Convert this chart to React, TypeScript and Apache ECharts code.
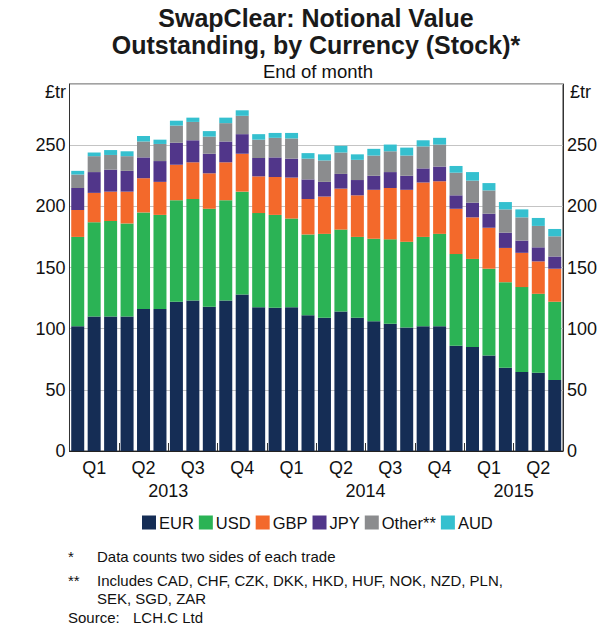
import React, { useEffect, useRef } from "react";
import * as echarts from "echarts";

const months: string[] = [
  "Jan 2013", "Feb 2013", "Mar 2013", "Apr 2013", "May 2013", "Jun 2013",
  "Jul 2013", "Aug 2013", "Sep 2013", "Oct 2013", "Nov 2013", "Dec 2013",
  "Jan 2014", "Feb 2014", "Mar 2014", "Apr 2014", "May 2014", "Jun 2014",
  "Jul 2014", "Aug 2014", "Sep 2014", "Oct 2014", "Nov 2014", "Dec 2014",
  "Jan 2015", "Feb 2015", "Mar 2015", "Apr 2015", "May 2015", "Jun 2015",
];

const eur: number[] = [102, 110, 110, 110, 116, 116, 122, 123, 118, 123, 128, 117.5, 117, 117.5, 111, 109, 114, 109, 106, 104, 101, 102, 102, 86, 85, 78, 68, 64.5, 64, 58];
const usd: number[] = [73, 77, 78, 76, 79, 77, 83, 83, 80, 82, 84, 77, 76, 72.5, 66, 68.5, 67, 66, 67.5, 69, 70, 73, 75.5, 75, 72, 71, 70, 69.5, 64.5, 64];
const gbp: number[] = [22, 24, 24, 26, 28, 27, 29, 30, 29, 31, 31, 30, 31, 33.5, 29, 30.5, 33.5, 34, 40, 42, 42.5, 44.5, 43, 37, 34, 33.5, 28, 28, 26.5, 27];
const jpy: number[] = [18, 17, 18, 17, 17, 17, 18, 18, 16, 17, 16, 15, 16, 15.5, 16, 12, 12, 12.5, 11.5, 13, 11.5, 11.5, 12, 11, 12, 11.5, 12.5, 10, 11.5, 10];
const other: number[] = [11, 13, 12, 12, 13, 14, 14, 15, 14, 15, 15, 15, 16, 16.5, 17, 17.5, 17.5, 16.5, 16.5, 17, 16.5, 18, 18, 18.5, 18, 19, 19, 19, 17.5, 16.5];
const aud: number[] = [3, 3, 4, 4, 4.5, 3.5, 4, 3.5, 4.5, 4.5, 4.5, 4.5, 4, 4.5, 4.5, 5, 5.5, 4.5, 5.5, 5.5, 6.5, 5, 5.5, 5.5, 7, 6, 6, 6.5, 6.5, 6];

const seriesNames: string[] = ["EUR", "USD", "GBP", "JPY", "Other**", "AUD"];
const seriesColors: string[] = ["#152d55", "#2bb355", "#f3692b", "#51368a", "#8b8c8e", "#35c0cf"];
const yTicks: number[] = [0, 50, 100, 150, 200, 250, 300];
const quarterLabels: string[] = ["Q1", "Q2", "Q3", "Q4"];
const yearLabels: { pos: number; label: string }[] = [
  { pos: 6, label: "2013" },
  { pos: 18, label: "2014" },
  { pos: 27, label: "2015" },
];

const FONT = "'Liberation Sans', Arial, sans-serif";

export default function App() {
  const ref = useRef<HTMLDivElement>(null);

  useEffect(() => {
    document.body.style.margin = "0";
    if (!ref.current) return;
    const chart = echarts.init(ref.current, undefined, { renderer: "svg" });
    const allData = [eur, usd, gbp, jpy, other, aud];
    const yMax = yTicks[yTicks.length - 1];
    const yInterval = yTicks[1] - yTicks[0];

    const gridLeft = 69.5;
    const gridRight = 32;
    const cx = 316;

    const yAxisCommon = {
      type: "value" as const,
      min: yTicks[0],
      max: yMax,
      interval: yInterval,
      axisTick: { show: false },
      axisLine: { show: true, lineStyle: { color: "#333", width: 1 } },
      axisLabel: {
        color: "#111",
        fontSize: 18,
        fontFamily: FONT,
        margin: 4,
        formatter: (v: number) => (v === yMax ? "" : String(v)),
      },
    };

    const txt = (x: number, y: number, text: string, size: number, extra: any = {}) => ({
      type: "text",
      x,
      y,
      style: {
        text,
        fontSize: size,
        fontFamily: FONT,
        fill: "#111",
        verticalAlign: "middle",
        ...extra,
      },
    });

    chart.setOption({
      animation: false,
      textStyle: { fontFamily: FONT },
      grid: {
        left: gridLeft,
        right: gridRight,
        top: 84,
        bottom: 174,
        show: true,
        borderColor: "#444",
        borderWidth: 1,
        backgroundColor: "transparent",
      },
      legend: {
        top: 509,
        left: 137,
        itemWidth: 14,
        itemHeight: 14,
        itemGap: 5,
        icon: "rect",
        textStyle: { fontFamily: FONT, fontSize: 16.5, color: "#111", padding: [0, 0, 0, -2] },
        data: seriesNames,
      },
      xAxis: [
        {
          type: "category",
          data: months,
          boundaryGap: true,
          axisLine: { show: true, lineStyle: { color: "#222", width: 1 } },
          axisTick: {
            show: true,
            inside: true,
            length: 8,
            interval: (i: number) => i % 3 === 0 && i !== 0,
            lineStyle: { color: "#333" },
          },
          axisLabel: {
            color: "#111",
            fontSize: 18,
            fontFamily: FONT,
            margin: 8,
            interval: (i: number) => i % 3 === 1,
            formatter: (_v: string, i: number) => quarterLabels[Math.floor((i % 12) / 3)],
          },
        },
        {
          type: "value",
          min: 0,
          max: months.length,
          interval: 3,
          position: "bottom",
          offset: 23,
          axisLine: { show: false },
          axisTick: { show: false },
          splitLine: { show: false },
          axisLabel: {
            color: "#111",
            fontSize: 18,
            fontFamily: FONT,
            margin: 8,
            showMinLabel: true,
            showMaxLabel: true,
            formatter: (v: number) => {
              const f = yearLabels.find((y) => y.pos === v);
              return f ? f.label : "";
            },
          },
        },
      ],
      yAxis: [
        {
          ...yAxisCommon,
          position: "left",
          splitLine: { show: true, lineStyle: { color: "#c4c4c4", width: 1 } },
        },
        {
          ...yAxisCommon,
          position: "right",
          splitLine: { show: false },
        },
      ],
      graphic: [
        txt(cx, 18, "SwapClear: Notional Value", 25, { fontWeight: "bold", align: "center", fill: "#1a1a1a" }),
        txt(cx, 45, "Outstanding, by Currency (Stock)*", 25, { fontWeight: "bold", align: "center", fill: "#1a1a1a" }),
        txt(cx + 2, 71, "End of month", 18.5, { align: "center" }),
        txt(45, 92, "£tr", 18),
        txt(570, 92, "£tr", 18),
        txt(68, 556, "*", 15),
        txt(97, 556, "Data counts two sides of each trade", 15),
        txt(68, 580, "**", 15),
        txt(97, 580, "Includes CAD, CHF, CZK, DKK, HKD, HUF, NOK, NZD, PLN,", 15),
        txt(97, 598, "SEK, SGD, ZAR", 15),
        txt(68, 617, "Source:", 15),
        txt(133, 617, "LCH.C Ltd", 15),
      ],
      series: seriesNames.map((name, k) => ({
        name,
        type: "bar",
        stack: "total",
        xAxisIndex: 0,
        yAxisIndex: 0,
        barWidth: 13,
        itemStyle: { color: seriesColors[k] },
        data: allData[k],
      })),
    });

    return () => {
      chart.dispose();
    };
  }, []);

  return (
    <div
      ref={ref}
      style={{ width: 600, height: 625, position: "absolute", left: 0, top: 0 }}
    />
  );
}
